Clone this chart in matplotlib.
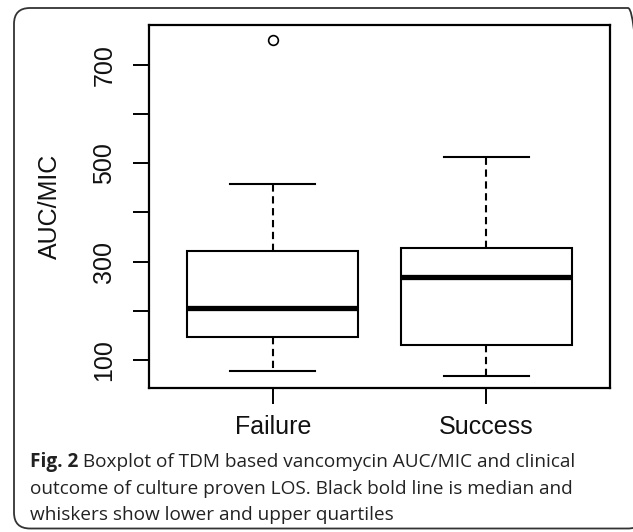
import matplotlib
matplotlib.use("Agg")
import matplotlib.pyplot as plt
from matplotlib.patches import FancyBboxPatch

# ---- data ----
groups = ["Failure", "Success"]
whisker_low = [78, 68]
q1 = [147, 130]
medians = [206, 268]
q3 = [322, 327]
whisker_high = [458, 513]
outliers = [[751], []]
y_ticks = [100, 200, 300, 400, 500, 600, 700]
y_ticklabels = ["100", "", "300", "", "500", "", "700"]
y_label = "AUC/MIC"
caption_bold = "Fig. 2"
caption_lines = [
    " Boxplot of TDM based vancomycin AUC/MIC and clinical",
    "outcome of culture proven LOS. Black bold line is median and",
    "whiskers show lower and upper quartiles",
]

W, H = 633, 532
fig = plt.figure(figsize=(W / 100, H / 100), dpi=100)
fig.patch.set_facecolor("white")

# rounded outer frame (inches, right edge runs off the image)
frame = FancyBboxPatch((0.14, 0.035), 6.44 - 0.14, 5.24 - 0.035,
                       boxstyle="round,pad=0,rounding_size=0.16",
                       transform=fig.dpi_scale_trans, fill=False,
                       edgecolor="#333333", linewidth=1.3, clip_on=False)
fig.patches.append(frame)

ax = fig.add_axes([149 / W, 1 - 388 / H, (610 - 149) / W, (388 - 25) / H])

stats = []
for i, g in enumerate(groups):
    stats.append(dict(label=g, whislo=whisker_low[i], q1=q1[i], med=medians[i],
                      q3=q3[i], whishi=whisker_high[i], fliers=outliers[i]))

lw = 1.5
ax.bxp(stats, positions=[1, 2], widths=0.8, patch_artist=True,
       boxprops=dict(facecolor="white", edgecolor="black", linewidth=lw),
       medianprops=dict(color="black", linewidth=3.8, solid_capstyle="butt"),
       whiskerprops=dict(color="black", linewidth=lw, linestyle=(0, (3.5, 2.2))),
       capprops=dict(color="black", linewidth=lw),
       capwidths=0.4,
       flierprops=dict(marker="o", markersize=7, markerfacecolor="none",
                       markeredgecolor="black", markeredgewidth=1.2))

ax.set_xlim(0.42, 2.58)
ax.set_ylim(43, 781)
ax.set_yticks(y_ticks)
ax.set_yticklabels(y_ticklabels, rotation=90, va="center",
                   fontfamily="Liberation Sans", fontsize=18, color="#111111")
ax.set_xticks([1, 2])
ax.set_xticklabels(groups, fontfamily="Liberation Sans", fontsize=18, color="#111111")
ax.tick_params(axis="both", length=11.5, width=1.4, color="black")
ax.tick_params(axis="y", pad=12)
ax.tick_params(axis="x", pad=8)
for s in ax.spines.values():
    s.set_linewidth(1.6)
ax.set_ylabel(y_label, fontfamily="Liberation Sans", fontsize=18, color="#111111")
ax.yaxis.set_label_coords(-87 / 461, 0.5)

# caption
cap_font = dict(fontfamily="Open Sans", fontsize=13.7, color="#222222")
x0 = 30 / W
base = [467, 494, 520]
t = fig.text(x0, 1 - base[0] / H, caption_bold, fontweight="bold", va="baseline", **cap_font)
fig.canvas.draw()
bb = t.get_window_extent()
fig.text(bb.x1 / W, 1 - base[0] / H, caption_lines[0], va="baseline", **cap_font)
fig.text(x0, 1 - base[1] / H, caption_lines[1], va="baseline", **cap_font)
fig.text(x0, 1 - base[2] / H, caption_lines[2], va="baseline", **cap_font)

fig.savefig("out.png", dpi=100, facecolor="white")
